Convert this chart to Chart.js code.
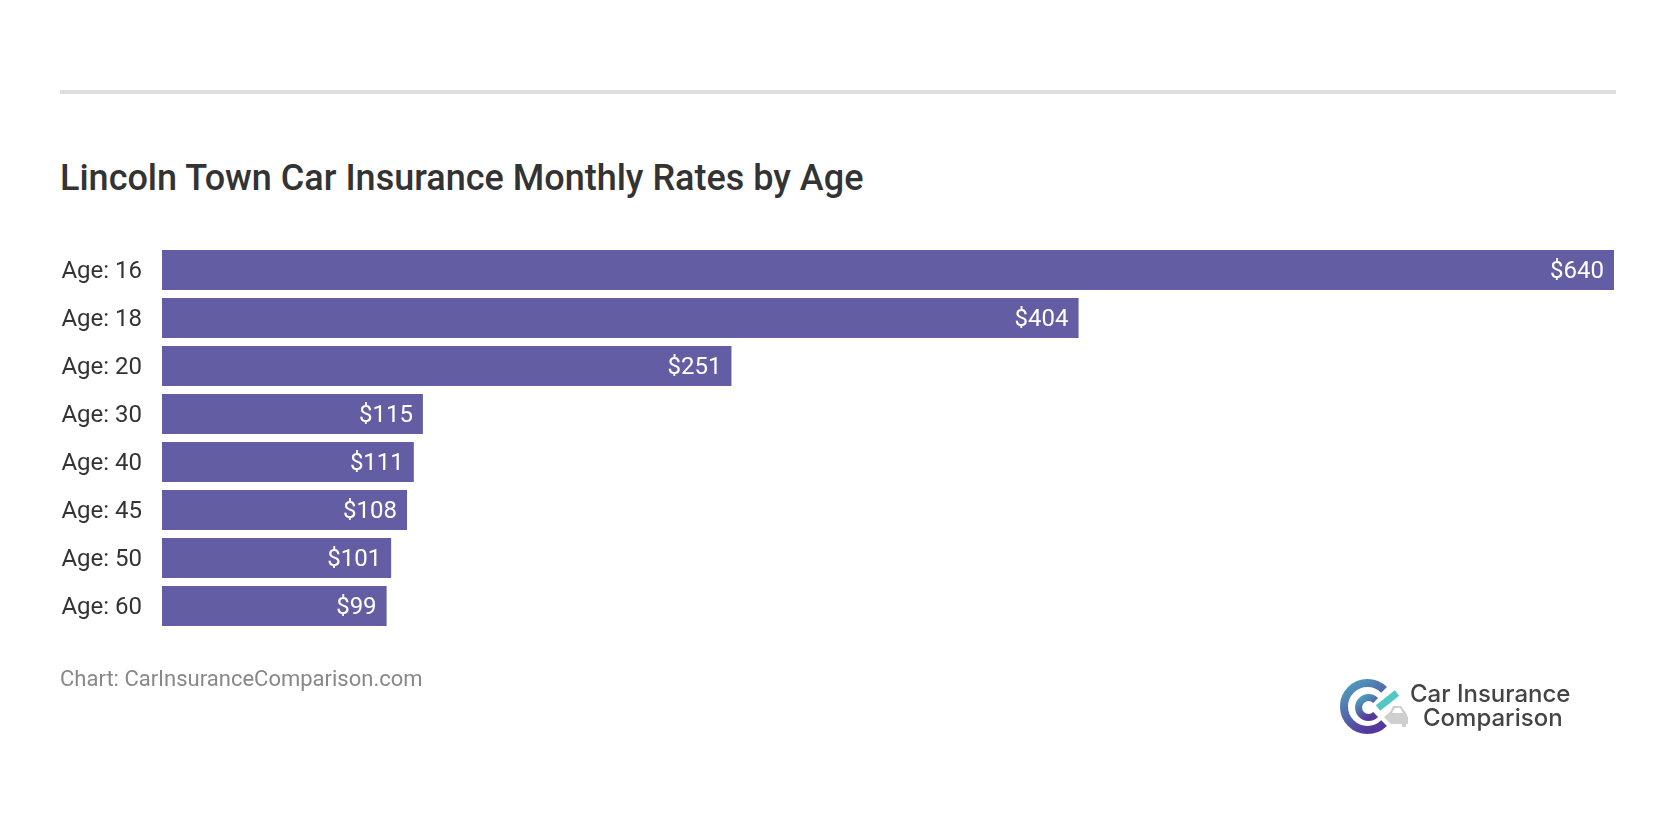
<!DOCTYPE html>
<html lang="en">
<head>
<meta charset="utf-8">
<title>Lincoln Town Car Insurance Monthly Rates by Age</title>
<script src="https://cdn.jsdelivr.net/npm/chart.js@4"></script>
<style>
    html, body { margin: 0; padding: 0; background: #fff; overflow: hidden; }
    body { width: 1676px; height: 836px; position: relative; font-family: Roboto, sans-serif; }
    #rule { position: absolute; left: 60px; top: 90px; width: 1556px; height: 4px; background: #dedede; }
    h1 { position: absolute; left: 60px; top: 157px; margin: 0; font-size: 36px; line-height: 42px; font-weight: 500; color: #333; white-space: nowrap; }
    #source { position: absolute; left: 60px; top: 666px; font-size: 22px; line-height: 26px; color: #888; white-space: nowrap; }
    #logo { position: absolute; left: 1330px; top: 668px; }
    #wrap { position: absolute; left: 0; top: 0; width: 1676px; height: 836px; }
</style>
</head>
<body>
<div id="rule"></div>
<h1>Lincoln Town Car Insurance Monthly Rates by Age</h1>
<div id="wrap"><canvas id="graphique" width="1676" height="836"></canvas></div>
<div id="source">Chart: CarInsuranceComparison.com</div>
<svg id="logo" width="260" height="76" viewBox="0 0 260 76">
    <defs>
        <linearGradient id="grad" x1="0" y1="0" x2="0.6" y2="1">
            <stop offset="0" stop-color="#4fa3bc"/>
            <stop offset="1" stop-color="#55389c"/>
        </linearGradient>
    </defs>
    <path d="M54.1 21.9 A23.5 23.5 0 1 0 54.1 55.1" fill="none" stroke="url(#grad)" stroke-width="8"/>
    <path d="M45.6 32.4 A10 10 0 1 0 45.6 46.6" fill="none" stroke="url(#grad)" stroke-width="7"/>
    <path d="M48 40 L67 25" stroke="#52c7c4" stroke-width="7"/>
    <path d="M54 49 L60 44 L63 38 H71 L76 45 L78 49 V56 H76 V59 H72 V56 H61 Z" fill="#cfcfcf"/>
    <path d="M65 40 H70 L73 45 H62 Z" fill="#fff"/>
    <text x="80" y="34" font-family="Inter, sans-serif" font-size="24" font-weight="500" fill="#444">Car Insurance</text>
    <text x="93" y="58" font-family="Inter, sans-serif" font-size="24" font-weight="500" fill="#444">Comparison</text>
</svg>

<script>
    var categories = ['Age: 16', 'Age: 18', 'Age: 20', 'Age: 30', 'Age: 40', 'Age: 45', 'Age: 50', 'Age: 60'];
    var rates = [640, 404, 251, 115, 111, 108, 101, 99];
    var xMax = 640;

    // Valeurs en blanc, calees a droite dans chaque barre
    var barLabels = {
        id: 'barLabels',
        beforeDraw: function (chart) {
            // Descend un peu les libelles de l'axe
            chart.scales.y.getLabelItems().forEach(function (item) {
                item.textOffset = 2;
            });
        },
        afterDatasetsDraw: function (chart) {
            var ctx = chart.ctx;
            ctx.save();
            ctx.font = '24px Roboto';
            ctx.fillStyle = '#ffffff';
            ctx.textAlign = 'right';
            ctx.textBaseline = 'middle';
            chart.getDatasetMeta(0).data.forEach(function (bar, i) {
                ctx.fillText('$' + rates[i], bar.x - 10, bar.y + 2);
            });
            ctx.restore();
        }
    };

    var ctx = document.getElementById('graphique').getContext('2d');
    var chart = new Chart(ctx, {
        type: 'bar',
        data: {
            labels: categories,
            datasets: [{
                data: rates,
                backgroundColor: '#635da4',
                borderWidth: 0,
                categoryPercentage: 1,
                barPercentage: 40 / 48
            }]
        },
        options: {
            indexAxis: 'y',
            responsive: false,
            animation: false,
            layout: { padding: { left: 0, top: 246, right: 62, bottom: 206 } },
            plugins: { legend: { display: false }, tooltip: { enabled: false } },
            scales: {
                x: { display: false, min: 0, max: xMax },
                y: {
                    afterFit: function (axis) { axis.width = 162; },
                    border: { display: false },
                    grid: { display: false, drawTicks: false },
                    ticks: { color: '#333', padding: 20, font: { family: 'Roboto', size: 24 } }
                }
            }
        },
        plugins: [barLabels]
    });
</script>
</body>
</html>
